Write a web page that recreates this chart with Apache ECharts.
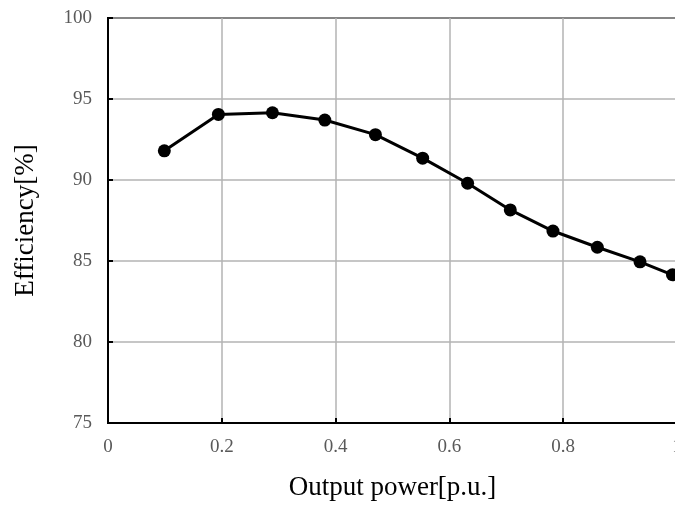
<!DOCTYPE html>
<html>
<head>
<meta charset="utf-8">
<script src="https://cdn.jsdelivr.net/npm/echarts@6/dist/echarts.min.js"></script>
<style>
  html, body { margin: 0; padding: 0; background: #fff; }
  #chart { width: 675px; height: 505px; }
</style>
</head>
<body>
<div id="chart"></div>
<script>
// output power (p.u.) and measured efficiency (%)
const outputPower = [0.099, 0.194, 0.289, 0.381, 0.470, 0.553, 0.632, 0.707, 0.782, 0.860, 0.935, 0.992];
const efficiency = [91.8, 94.05, 94.15, 93.7, 92.8, 91.35, 89.8, 88.15, 86.85, 85.85, 84.95, 84.15];
const xTickLabels = ['0', '0.2', '0.4', '0.6', '0.8', '1'];

const chart = echarts.init(document.getElementById('chart'));
const serif = '"Liberation Serif", "Times New Roman", serif';

const option = {
  animation: false,
  grid: {
    left: 108, top: 18, width: 569, height: 405,
    containLabel: false,
    outerBoundsMode: 'none',
    show: true, borderColor: '#000', borderWidth: 2
  },
  xAxis: {
    type: 'value',
    min: 0, max: 1, interval: 0.2,
    name: 'Output power[p.u.]',
    nameLocation: 'middle',
    nameGap: 51,
    nameMoveOverlap: false,
    nameTextStyle: { fontFamily: serif, fontSize: 27, color: '#000' },
    axisLine: { lineStyle: { color: '#000', width: 2 } },
    axisTick: { show: true, inside: true, length: 5, lineStyle: { color: '#000', width: 2 } },
    axisLabel: {
      margin: 15, fontFamily: serif, fontSize: 19, color: '#595959',
      formatter: (v) => xTickLabels[Math.round(v / 0.2)]
    },
    splitLine: { lineStyle: { color: '#b3b3b3', width: 1.5 } }
  },
  yAxis: {
    type: 'value',
    min: 75, max: 100, interval: 5,
    name: 'Efficiency[%]',
    nameLocation: 'middle',
    nameGap: 69,
    nameMoveOverlap: false,
    nameTextStyle: { fontFamily: serif, fontSize: 27, color: '#000' },
    axisLine: { show: true, lineStyle: { color: '#000', width: 2 } },
    axisTick: { show: true, inside: true, length: 5, lineStyle: { color: '#000', width: 2 } },
    axisLabel: { margin: 16, fontFamily: serif, fontSize: 19, color: '#595959' },
    splitLine: { lineStyle: { color: '#b3b3b3', width: 1.5 } }
  },
  series: [{
    type: 'line',
    data: outputPower.map((x, i) => [x, efficiency[i]]),
    symbol: 'circle',
    symbolSize: 13,
    clip: false,
    lineStyle: { color: '#000', width: 3 },
    itemStyle: { color: '#000' }
  }]
};

chart.setOption(option);
</script>
</body>
</html>
